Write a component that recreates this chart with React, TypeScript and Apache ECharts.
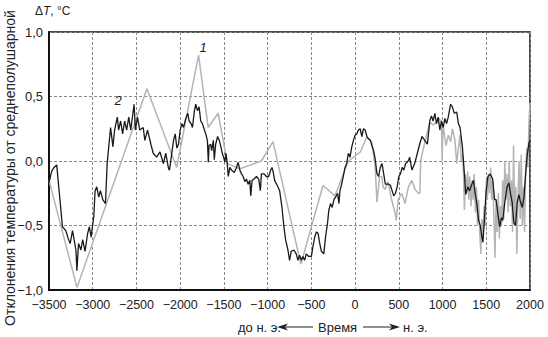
import React, { useEffect, useRef } from "react";
import * as echarts from "echarts";

const xMin = -3500;
const xMax = 2000;
const xStep = 500;
const yMin = -1;
const yMax = 1;
const yStep = 0.5;

// Curve 1 (grey)
const series1: [number, number][] = [
  [-3500, -0.15], [-3180, -0.98], [-2380, 0.56], [-2040, -0.05], [-1790, 0.82],
  [-1680, 0.26], [-1565, 0.37], [-1460, -0.02], [-1318, -0.06], [-1071, 0.0],
  [-939, 0.15], [-620, -0.8], [-367, -0.19], [-230, -0.27], [-77, 0.0],
  [0, 0.04], [60, 0.07], [136, 0.19], [190, 0.15], [230, -0.05], [250, -0.32],
  [280, -0.12], [304, -0.12], [320, -0.2], [342, -0.22], [376, -0.16], [418, -0.3],
  [456, -0.4], [470, -0.46], [494, -0.3], [533, -0.25], [571, -0.33], [610, -0.2],
  [647, -0.15], [686, -0.22], [724, -0.25], [740, -0.25], [750, 0.0], [765, 0.05],
  [800, 0.15], [854, 0.3], [892, 0.28], [931, 0.3], [960, 0.33], [988, 0.3],
  [995, 0.0], [1005, 0.28], [1040, 0.12], [1065, 0.2], [1092, 0.15], [1112, 0.25],
  [1142, 0.16], [1162, -0.02], [1181, 0.1], [1200, 0.2], [1215, 0.0], [1227, 0.05],
  [1240, -0.1], [1250, -0.38], [1262, -0.1], [1275, -0.25], [1288, -0.08],
  [1300, -0.3], [1312, -0.12], [1325, -0.35], [1338, -0.15], [1350, -0.3],
  [1362, -0.1], [1375, -0.4], [1388, -0.2], [1400, -0.5], [1412, -0.3],
  [1425, -0.55], [1438, -0.72], [1450, -0.45], [1462, -0.6], [1475, -0.35],
  [1488, -0.5], [1500, -0.15], [1512, -0.3], [1525, -0.1], [1538, -0.25],
  [1550, -0.05], [1562, -0.3], [1575, -0.15], [1588, -0.45], [1600, -0.75],
  [1612, -0.3], [1625, -0.55], [1638, -0.25], [1650, -0.6], [1662, -0.35],
  [1675, -0.5], [1688, -0.15], [1700, -0.45], [1712, 0.0], [1725, -0.3],
  [1738, -0.1], [1750, -0.4], [1762, 0.0], [1775, -0.35], [1788, -0.15],
  [1800, -0.55], [1812, 0.12], [1825, -0.5], [1838, -0.2], [1850, -0.72],
  [1862, -0.3], [1875, 0.0], [1888, -0.45], [1900, 0.05], [1912, -0.5],
  [1925, -0.2], [1938, -0.55], [1950, -0.1], [1962, 0.1], [1975, -0.05],
  [1988, 0.3], [2000, 0.45],
];

// Curve 2 (black)
const series2: [number, number][] = [
  [-3500, -0.17], [-3470, -0.08], [-3442, -0.05], [-3412, -0.03], [-3346, -0.51],
  [-3308, -0.54], [-3281, -0.6], [-3258, -0.64], [-3231, -0.54], [-3192, -0.69],
  [-3181, -0.85], [-3162, -0.64], [-3135, -0.69], [-3115, -0.61], [-3088, -0.7],
  [-3058, -0.56], [-3038, -0.51], [-3019, -0.59], [-2988, -0.43], [-2973, -0.23],
  [-2954, -0.2], [-2931, -0.28], [-2912, -0.23], [-2885, -0.3], [-2854, -0.33],
  [-2835, -0.02], [-2796, 0.26], [-2769, 0.11], [-2750, 0.24], [-2719, 0.34],
  [-2704, 0.24], [-2681, 0.31], [-2658, 0.21], [-2635, 0.31], [-2612, 0.24],
  [-2588, 0.34], [-2565, 0.24], [-2527, 0.44], [-2512, 0.24], [-2488, 0.34],
  [-2462, 0.24], [-2423, 0.26], [-2404, 0.16], [-2373, 0.24], [-2335, 0.13],
  [-2308, 0.06], [-2269, 0.03], [-2231, 0.07], [-2192, -0.02], [-2165, 0.06],
  [-2133, -0.06], [-2121, -0.07], [-2102, 0.03], [-2076, 0.16], [-2057, 0.21],
  [-2038, 0.1], [-2019, 0.13], [-2000, 0.24], [-1981, 0.29], [-1962, 0.26],
  [-1936, 0.33], [-1913, 0.37], [-1898, 0.31], [-1875, 0.29], [-1860, 0.26],
  [-1837, 0.39], [-1822, 0.44], [-1803, 0.39], [-1784, 0.42], [-1765, 0.31],
  [-1746, 0.29], [-1723, 0.24], [-1708, 0.21], [-1689, 0.16], [-1678, -0.01],
  [-1670, 0.12], [-1651, 0.13], [-1640, 0.08], [-1621, 0.16], [-1610, 0.01],
  [-1594, 0.13], [-1572, 0.19], [-1553, 0.16], [-1534, 0.11], [-1519, 0.06],
  [-1504, 0.03], [-1488, -0.01], [-1477, 0.06], [-1462, -0.02], [-1450, -0.12],
  [-1432, -0.05], [-1413, -0.07], [-1382, -0.09], [-1356, -0.05], [-1337, -0.01],
  [-1318, -0.07], [-1299, -0.1], [-1280, -0.12], [-1261, -0.16], [-1242, -0.14],
  [-1223, -0.18], [-1204, -0.15], [-1193, -0.27], [-1178, -0.15], [-1155, -0.14],
  [-1128, -0.12], [-1102, -0.14], [-1083, -0.23], [-1071, -0.1], [-1041, -0.1],
  [-1015, -0.12], [-988, -0.12], [-965, -0.07], [-950, -0.05], [-935, -0.09],
  [-920, -0.15], [-890, -0.19], [-863, -0.23], [-836, -0.36], [-814, -0.51],
  [-795, -0.61], [-768, -0.69], [-749, -0.77], [-731, -0.7], [-700, -0.69],
  [-673, -0.72], [-654, -0.77], [-635, -0.73], [-615, -0.77], [-596, -0.74],
  [-577, -0.77], [-558, -0.72], [-531, -0.74], [-500, -0.74], [-481, -0.66],
  [-462, -0.59], [-442, -0.55], [-423, -0.56], [-404, -0.64], [-385, -0.7],
  [-358, -0.72], [-338, -0.59], [-315, -0.48], [-300, -0.38], [-281, -0.33],
  [-262, -0.36], [-242, -0.3], [-223, -0.28], [-200, -0.25], [-185, -0.33],
  [-173, -0.23], [-154, -0.18], [-135, -0.12], [-115, -0.05], [-96, -0.02],
  [-77, 0.06], [-58, 0.03], [-38, 0.11], [-19, 0.16], [0, 0.2], [19, 0.21],
  [38, 0.24], [58, 0.25], [77, 0.19], [96, 0.25], [115, 0.24], [135, 0.19],
  [154, 0.17], [173, 0.16], [192, 0.12], [212, 0.08], [231, 0.01], [250, -0.1],
  [269, -0.12], [288, -0.05], [308, -0.02], [327, -0.1], [346, -0.18],
  [365, -0.18], [385, -0.18], [404, -0.19], [423, -0.23], [442, -0.27],
  [462, -0.25], [481, -0.2], [500, -0.12], [519, -0.1], [538, -0.05],
  [558, -0.07], [577, -0.02], [596, -0.01], [615, 0.01], [623, 0.03],
  [650, -0.07], [681, -0.02], [712, 0.06], [738, 0.13], [765, 0.19], [796, 0.16],
  [827, 0.13], [854, 0.31], [873, 0.35], [892, 0.31], [912, 0.37], [931, 0.29],
  [950, 0.34], [969, 0.24], [988, 0.31], [1008, 0.26], [1027, 0.33], [1046, 0.29],
  [1065, 0.34], [1092, 0.44], [1112, 0.42], [1135, 0.37], [1162, 0.38],
  [1181, 0.29], [1200, 0.26], [1227, 0.11], [1238, 0.01], [1250, -0.1],
  [1265, -0.26], [1288, -0.2], [1308, -0.23], [1335, -0.18], [1354, -0.15],
  [1373, -0.25], [1392, -0.33], [1412, -0.46], [1431, -0.5], [1450, -0.59],
  [1462, -0.63], [1481, -0.43], [1496, -0.25], [1519, -0.12], [1546, -0.1],
  [1573, -0.14], [1596, -0.3], [1612, -0.3], [1635, -0.42], [1654, -0.51],
  [1673, -0.44], [1688, -0.46], [1712, -0.32], [1738, -0.2], [1758, -0.17],
  [1777, -0.25], [1796, -0.32], [1815, -0.48], [1835, -0.5], [1854, -0.32],
  [1873, -0.26], [1892, -0.32], [1912, -0.36], [1931, -0.28], [1950, -0.1],
  [1969, 0.05], [1988, 0.14], [2000, 0.16],
];

const curveLabels = [
  { name: "1", coord: [-1739, 0.88] },
  { name: "2", coord: [-2711, 0.47] },
];

const yAxisTitle = "Отклонения температуры от среднеполушарной";
const FONT = "'Liberation Sans', Arial, sans-serif";

const fmtX = (v: number) => String(v).replace("-", "\u2212");
const fmtY = (v: number) => v.toFixed(1).replace(".", ",").replace("-", "\u2212");

export default function App() {
  const ref = useRef<HTMLDivElement>(null);
  useEffect(() => {
    const chart = echarts.init(ref.current!, null, { renderer: "svg" });
    const cy = 327;
    chart.setOption({
      animation: false,
      backgroundColor: "#fff",
      textStyle: { fontFamily: FONT },
      grid: {
        left: 49, right: 18, top: 32, bottom: 47,
        show: true, borderColor: "#111", borderWidth: 1.5,
      },
      xAxis: {
        type: "value", min: xMin, max: xMax, interval: xStep,
        axisLine: { show: true, onZero: false, lineStyle: { color: "#111", width: 2 } },
        axisTick: { show: false },
        axisLabel: { formatter: fmtX, color: "#222", fontSize: 12.5, margin: 8, fontFamily: FONT },
        splitLine: { show: true, lineStyle: { color: "#8a8a8a", type: [3, 2], width: 1 } },
      },
      yAxis: {
        type: "value", min: yMin, max: yMax, interval: yStep,
        axisLine: { show: true, onZero: false, lineStyle: { color: "#111", width: 2 } },
        axisTick: { show: false },
        axisLabel: { formatter: fmtY, color: "#222", fontSize: 13, margin: 6, fontFamily: FONT },
        splitLine: { show: true, lineStyle: { color: "#8a8a8a", type: [3, 2], width: 1 } },
      },
      series: [
        {
          type: "line", name: "1", data: series1, showSymbol: false,
          lineStyle: { color: "#b4b4b4", width: 1.5 }, z: 2,
          markPoint: {
            symbol: "circle", symbolSize: 0,
            label: { show: true, formatter: "{b}", color: "#222", fontStyle: "italic", fontSize: 13, fontFamily: FONT },
            data: [{ name: curveLabels[0].name, coord: curveLabels[0].coord }],
          },
        },
        {
          type: "line", name: "2", data: series2, showSymbol: false,
          lineStyle: { color: "#1a1a1a", width: 1.3 }, z: 3,
          markPoint: {
            symbol: "circle", symbolSize: 0,
            label: { show: true, formatter: "{b}", color: "#222", fontStyle: "italic", fontSize: 13, fontFamily: FONT },
            data: [{ name: curveLabels[1].name, coord: curveLabels[1].coord }],
          },
        },
      ],
      graphic: [
        {
          type: "text", x: 35, y: 5,
          style: {
            text: "Δ{i|T}, °C", fill: "#222", fontSize: 12, fontFamily: FONT,
            rich: { i: { fontStyle: "italic", fontSize: 12, fontFamily: FONT, fill: "#222" } },
          },
        },
        {
          type: "text", x: 10, y: 168, rotation: Math.PI / 2,
          style: {
            text: yAxisTitle, fill: "#222", fontSize: 14, fontFamily: FONT,
            align: "center", verticalAlign: "middle",
          },
        },
        {
          type: "text", x: 238, y: cy,
          style: { text: "до н. э.", fill: "#222", fontSize: 13, fontFamily: FONT, verticalAlign: "middle" },
        },
        { type: "line", shape: { x1: 284, y1: cy, x2: 313, y2: cy }, style: { stroke: "#222", lineWidth: 1 } },
        { type: "polygon", shape: { points: [[277, cy], [288, cy - 3.5], [285, cy], [288, cy + 3.5]] }, style: { fill: "#222" } },
        {
          type: "text", x: 318, y: cy,
          style: { text: "Время", fill: "#222", fontSize: 13, fontFamily: FONT, verticalAlign: "middle" },
        },
        { type: "line", shape: { x1: 363, y1: cy, x2: 393, y2: cy }, style: { stroke: "#222", lineWidth: 1 } },
        { type: "polygon", shape: { points: [[400, cy], [389, cy - 3.5], [392, cy], [389, cy + 3.5]] }, style: { fill: "#222" } },
        {
          type: "text", x: 403, y: cy,
          style: { text: "н. э.", fill: "#222", fontSize: 13, fontFamily: FONT, verticalAlign: "middle" },
        },
      ],
    });
    return () => chart.dispose();
  }, []);
  return (
    <div
      ref={ref}
      style={{ position: "absolute", left: 0, top: 0, width: 548, height: 337 }}
    />
  );
}
